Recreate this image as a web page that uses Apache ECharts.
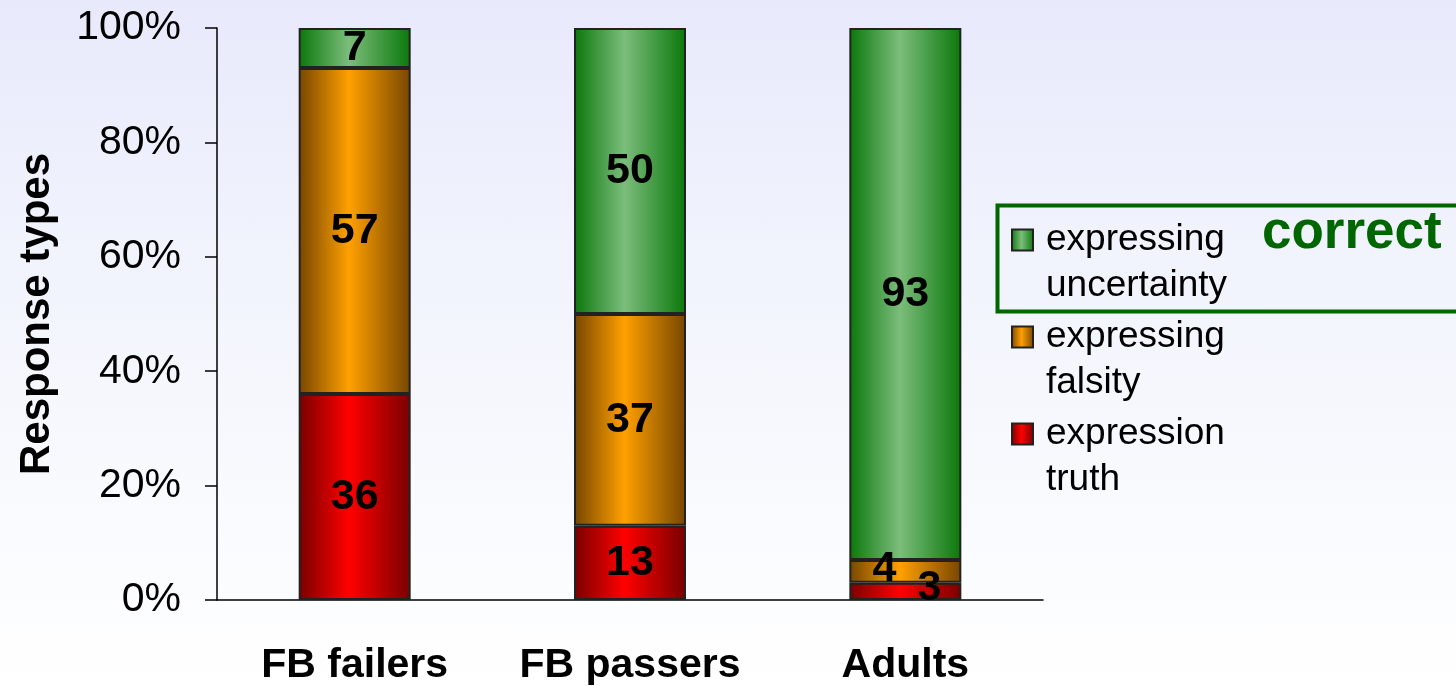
<!doctype html>
<html lang="en">
<head>
<meta charset="utf-8">
<title>Response types</title>
<script src="https://cdn.jsdelivr.net/npm/echarts@6/dist/echarts.min.js"></script>
<style>
  html, body { margin: 0; padding: 0; }
  body { background: linear-gradient(to bottom, #e8eafc 0%, #f4f6fd 50%, #ffffff 100%); }
  #main { width: 1456px; height: 686px; }
</style>
</head>
<body>
<div id="main"></div>
<script>
  var groups = ['FB failers', 'FB passers', 'Adults'];
  var truthVals = [36, 13, 3];
  var falsityVals = [57, 37, 4];
  var uncertVals = [7, 50, 93];
  var seriesNames = ['expressing uncertainty', 'expressing falsity', 'expression truth'];
  var yTicks = ['0%', '20%', '40%', '60%', '80%', '100%'];

  function barGrad(edge, mid) {
    return new echarts.graphic.LinearGradient(0, 0, 1, 0, [
      { offset: 0, color: edge },
      { offset: 0.45, color: mid },
      { offset: 1, color: edge }
    ]);
  }

  var labelStyle = {
    show: true, position: 'inside', color: '#000',
    fontFamily: 'Liberation Sans', fontWeight: 'bold', fontSize: 43
  };

  // small values in the Adults bar are nudged like in the source slide
  function withOffsets(vals, offsets) {
    return vals.map(function (v, i) {
      if (offsets[i]) return { value: v, label: { offset: offsets[i] } };
      return v;
    });
  }

  var chart = echarts.init(document.getElementById('main'));
  chart.setOption({
    backgroundColor: 'transparent',
    animation: false,
    grid: { left: 217, top: 28, right: 413, bottom: 86 },
    legend: {
      left: 1006, top: 166, orient: 'vertical',
      icon: 'rect', itemWidth: 21, itemHeight: 21, itemGap: -41,
      data: seriesNames,
      // blank first line so the swatch sits next to the first text line
      formatter: function (n) { return '\n' + n.replace(' ', '\n'); },
      textStyle: { fontFamily: 'Liberation Sans', fontSize: 37, color: '#000', lineHeight: 46, padding: [0, 0, 0, 8] }
    },
    xAxis: {
      type: 'category', data: groups,
      axisLine: { lineStyle: { color: '#000', width: 1.5 } },
      axisTick: { length: 14, lineStyle: { color: '#000', width: 1.5 } },
      axisLabel: {
        interval: 0, hideOverlap: false,
        color: '#000', fontFamily: 'Liberation Sans', fontWeight: 'bold', fontSize: 41, margin: 45
      }
    },
    yAxis: {
      type: 'value', min: 0, max: 100, interval: 20,
      name: 'Response types', nameLocation: 'middle', nameGap: 159,
      nameTextStyle: { color: '#000', fontFamily: 'Liberation Sans', fontWeight: 'bold', fontSize: 42 },
      axisLine: { show: true, lineStyle: { color: '#000', width: 1.5 } },
      axisTick: { show: true, length: 12, lineStyle: { color: '#000', width: 1.5 } },
      splitLine: { show: false },
      axisLabel: {
        color: '#000', fontFamily: 'Liberation Sans', fontSize: 41, margin: 36,
        formatter: function (v) { return yTicks[v / 20]; }
      }
    },
    series: [
      {
        name: seriesNames[2], type: 'bar', stack: 'all', barWidth: 112,
        data: withOffsets(truthVals, [null, null, [24, -3]]),
        itemStyle: { color: barGrad('#780000', '#ff0000'), borderColor: '#222', borderWidth: 2 },
        label: labelStyle
      },
      {
        name: seriesNames[1], type: 'bar', stack: 'all', barWidth: 112,
        data: withOffsets(falsityVals, [null, null, [-21, -2]]),
        itemStyle: { color: barGrad('#764600', '#ffa000'), borderColor: '#222', borderWidth: 2 },
        label: labelStyle
      },
      {
        name: seriesNames[0], type: 'bar', stack: 'all', barWidth: 112,
        data: uncertVals,
        itemStyle: { color: barGrad('#0a780a', '#7cbd7c'), borderColor: '#222', borderWidth: 2 },
        label: labelStyle
      }
    ],
    graphic: [
      {
        type: 'rect', left: 995, top: 203,
        shape: { width: 470, height: 106 },
        style: { fill: 'none', stroke: '#006600', lineWidth: 4 }
      },
      {
        type: 'text', left: 1262, top: 207,
        style: { text: 'correct', fill: '#006600', font: 'bold 53px "Liberation Sans"' }
      }
    ]
  });
</script>
</body>
</html>
